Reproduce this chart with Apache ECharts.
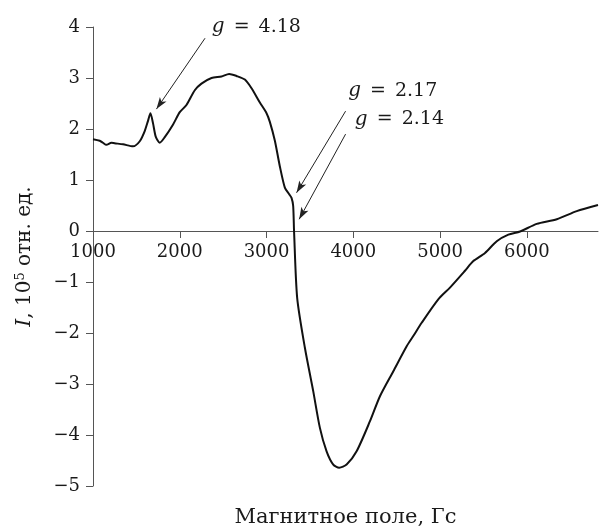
<!DOCTYPE html>
<html>
<head>
<meta charset="utf-8">
<script src="https://cdn.jsdelivr.net/npm/echarts@6/dist/echarts.min.js"></script>
<style>html,body{margin:0;padding:0;background:#fff;}#c{width:600px;height:531px;}</style>
</head>
<body>
<div id="c"></div>
<script>
// Magnetic field, Gs
var fieldGs = [1000,1077,1115,1154,1212,1250,1346,1461,1539,1596,1634,1662,1692,1723,1769,1827,1923,2000,2077,2173,2250,2366,2481,2569,2654,2750,2827,2923,3000,3038,3096,3153,3211,3261,3288,3307,3317,3353,3442,3538,3615,3692,3769,3837,3923,4038,4192,4307,4461,4615,4691,4788,4979,5114,5287,5383,5518,5653,5787,5922,6114,6345,6575,6820];
// Intensity, 10^5 rel. units
var intensity = [1.80,1.77,1.73,1.69,1.73,1.72,1.70,1.66,1.76,1.96,2.16,2.31,2.11,1.85,1.73,1.84,2.09,2.33,2.47,2.76,2.89,3.00,3.03,3.08,3.04,2.97,2.80,2.52,2.31,2.14,1.77,1.27,0.85,0.72,0.65,0.49,0.0,-1.31,-2.29,-3.14,-3.86,-4.32,-4.58,-4.64,-4.58,-4.32,-3.73,-3.24,-2.75,-2.26,-2.06,-1.80,-1.34,-1.11,-0.78,-0.59,-0.43,-0.20,-0.07,-0.01,0.14,0.23,0.39,0.51];
// Annotations (data coordinates)
var gLabels = ['4.18', '2.17', '2.14'];
var gLabelPos = [[2369, 4.00], [3941, 2.75], [4018, 2.19]];
var arrowFrom = [[2291, 3.78], [3911, 2.35], [3911, 1.90]];
var arrowTo = [[1731, 2.39], [3346, 0.75], [3376, 0.23]];
var xTicks = {min: 1000, max: 6820, interval: 1000};
var yTicks = {min: -5, max: 4, interval: 1};

var FONT = 'DejaVu Serif';
var TXT = '#1a1a1a';
var GRID_TOP = 27, GRID_BOTTOM = 45, H = 531;
// place x axis at y = 0
var plotH = H - GRID_TOP - GRID_BOTTOM;
var zeroOffset = -plotH * (0 - yTicks.min) / (yTicks.max - yTicks.min);

var chart = echarts.init(document.getElementById('c'), null, {renderer: 'canvas'});
var seriesData = fieldGs.map(function (x, i) { return [x, intensity[i]]; });
var arrows = arrowFrom.map(function (f, i) { return [{coord: f}, {coord: arrowTo[i]}]; });
var labels = gLabels.map(function (t, i) { return {coord: gLabelPos[i], name: t}; });

chart.setOption({
  animation: false,
  backgroundColor: '#fff',
  grid: {left: 93, right: 2, top: GRID_TOP, bottom: GRID_BOTTOM, containLabel: false, outerBoundsMode: 'none'},
  xAxis: {
    type: 'value', min: xTicks.min, max: xTicks.max, interval: xTicks.interval,
    offset: zeroOffset,
    name: 'Магнитное поле, Гс', nameLocation: 'middle', nameGap: 276,
    nameTextStyle: {fontFamily: FONT, fontSize: 21, color: TXT},
    axisLine: {show: true, onZero: false, lineStyle: {color: '#555', width: 1}},
    axisTick: {show: true, inside: false, length: 7, lineStyle: {color: '#555'}},
    axisLabel: {fontFamily: FONT, fontSize: 18, color: TXT, margin: 12, showMaxLabel: false,
      formatter: function (v) { return String(v); }},
    splitLine: {show: false}
  },
  yAxis: {
    type: 'value', min: yTicks.min, max: yTicks.max, interval: yTicks.interval,
    name: '{i|I}, 10{s|5} отн. ед.', nameLocation: 'middle', nameGap: 57,
    nameTextStyle: {fontFamily: FONT, fontSize: 20, color: TXT,
      rich: {i: {fontFamily: FONT, fontSize: 20, fontStyle: 'italic', color: TXT},
             s: {fontFamily: FONT, fontSize: 13, color: TXT, verticalAlign: 'bottom', padding: [0, 0, 9, 0]}}},
    axisLine: {show: true, onZero: false, lineStyle: {color: '#555', width: 1}},
    axisTick: {show: true, inside: false, length: 7, lineStyle: {color: '#555'}},
    axisLabel: {fontFamily: FONT, fontSize: 18, color: TXT, margin: 13,
      formatter: function (v) { return v < 0 ? '\u2212' + Math.abs(v) : String(v); }},
    splitLine: {show: false}
  },
  series: [{
    type: 'line',
    data: seriesData,
    smooth: 0.25,
    showSymbol: false,
    symbol: 'none',
    lineStyle: {color: '#111', width: 2},
    markLine: {
      silent: true, animation: false,
      symbol: ['none', 'arrow'], symbolSize: [6, 12],
      lineStyle: {color: '#222', width: 1, type: 'solid'},
      label: {show: false},
      data: arrows
    },
    markPoint: {
      silent: true, animation: false,
      symbol: 'circle', symbolSize: 0,
      label: {show: true, position: 'right', distance: 0,
        fontFamily: FONT, fontSize: 19, color: TXT,
        formatter: function (p) { return '{i|g} {e|=} ' + p.name; },
        rich: {i: {fontFamily: FONT, fontSize: 20, fontStyle: 'italic', color: TXT},
               e: {fontFamily: FONT, fontSize: 19, color: TXT, padding: [0, 3, 0, 3]}}},
      data: labels
    }
  }]
});
</script>
</body>
</html>
